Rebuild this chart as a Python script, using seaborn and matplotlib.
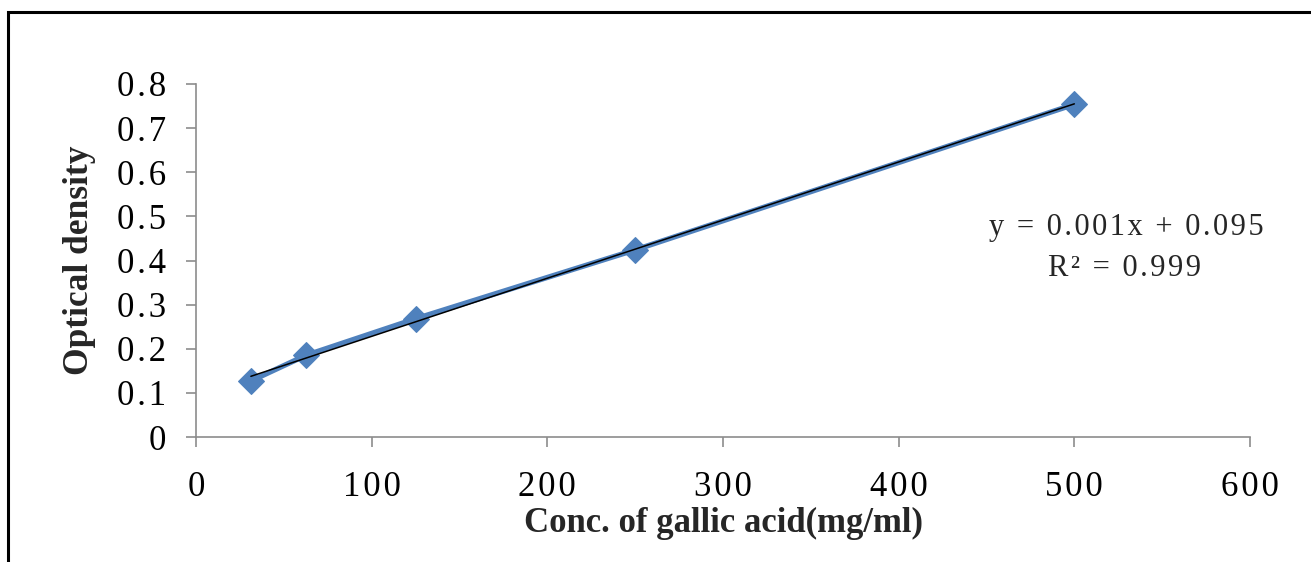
import numpy as np
import pandas as pd
import matplotlib
matplotlib.use("Agg")
import matplotlib.pyplot as plt
import seaborn as sns
from matplotlib.patches import Rectangle

# ---- data ----
conc = [31.25, 62.5, 125, 250, 500]
optical_density = [0.127, 0.185, 0.268, 0.424, 0.754]
x_ticks = [0, 100, 200, 300, 400, 500, 600]
x_tick_labels = ["0", "100", "200", "300", "400", "500", "600"]
y_ticks = [0, 0.1, 0.2, 0.3, 0.4, 0.5, 0.6, 0.7, 0.8]
y_tick_labels = ["0", "0.1", "0.2", "0.3", "0.4", "0.5", "0.6", "0.7", "0.8"]
x_label = "Conc. of gallic acid(mg/ml)"
y_label = "Optical density"
eq_text = "y = 0.001x + 0.095"
r2_text = "R\u00b2 = 0.999"

HAIR = "\u200a"


def spaced(s):
    return HAIR.join(s)


df = pd.DataFrame({"conc": conc, "od": optical_density})

sns.set_style("white")
plt.rcParams["font.family"] = ["Liberation Serif", "DejaVu Serif"]

W, H = 1311, 562
fig = plt.figure(figsize=(W / 100, H / 100), dpi=100)
ax = fig.add_axes([196 / W, 1 - 437 / H, (1250 - 196) / W, (437 - 84) / H])

blue = "#4F81BD"
sns.lineplot(data=df, x="conc", y="od", ax=ax, color=blue, linewidth=3.8,
             marker="D", markersize=13.5, markeredgecolor=blue, zorder=3)
sns.regplot(data=df, x="conc", y="od", ax=ax, scatter=False, ci=None,
            color="black", line_kws={"linewidth": 1.1, "zorder": 4})

ax.set_xlim(0, 600)
ax.set_ylim(0, 0.8)
ax.set_xticks(x_ticks)
ax.set_xticklabels([spaced(t) for t in x_tick_labels])
ax.set_yticks(y_ticks)
ax.set_yticklabels([spaced(t) for t in y_tick_labels])

for s in ["top", "right"]:
    ax.spines[s].set_visible(False)
for s in ["left", "bottom"]:
    ax.spines[s].set_color("#8C8C8C")
    ax.spines[s].set_linewidth(1.2)

ax.tick_params(axis="both", which="major", direction="out", length=7.5,
               width=1.2, color="#8C8C8C", labelsize=25, labelcolor="black")
ax.tick_params(axis="x", pad=17, bottom=True)
ax.tick_params(axis="y", pad=14, left=True)

ax.set_xlabel(x_label, fontsize=25, fontweight="bold", labelpad=2)
ax.set_ylabel(y_label, fontsize=25.5, fontweight="bold", labelpad=15)

ax.text(1126 / W, 1 - 228 / H, spaced(eq_text),
        fontsize=22, ha="center", va="center", transform=fig.transFigure)
ax.text(1125 / W, 1 - 268 / H, spaced(r2_text),
        fontsize=22, ha="center", va="center", transform=fig.transFigure)

# outer frame
fig.patches.append(Rectangle((8 / W, -0.2), 1.2, 1 - 12 / H + 0.2,
                             transform=fig.transFigure, fill=False,
                             edgecolor="black", linewidth=2.2))

fig.savefig("out.png", dpi=100)
